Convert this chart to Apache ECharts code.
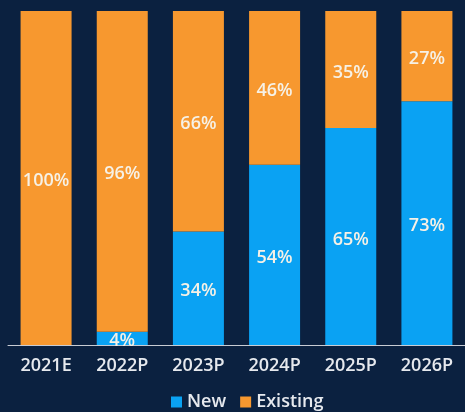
<!DOCTYPE html>
<html><head><meta charset="utf-8">
<script src="https://cdn.jsdelivr.net/npm/echarts@6/dist/echarts.min.js"></script>
<style>html,body{margin:0;padding:0;background:#0b2140;}#c{width:465px;height:412px;}</style>
</head><body><div id="c"></div>
<script>
const categories = ['2021E','2022P','2023P','2024P','2025P','2026P'];
const newShare = [0, 4, 34, 54, 65, 73];
const existingShare = [100, 96, 66, 46, 35, 27];
const seriesNames = ['New', 'Existing'];

const chart = echarts.init(document.getElementById('c'));
const labelStyle = {
  show: true, position: 'inside', offset: [0, 3], color: '#f6f1e6', fontSize: 18, fontWeight: 600,
  fontFamily: 'Open Sans', formatter: p => p.value > 0 ? p.value + '%' : ''
};
chart.setOption({
  backgroundColor: '#0b2140',
  animation: false,
  grid: { left: 8, top: 11, width: 464, bottom: 67, containLabel: false },
  legend: {
    bottom: -4, left: 166, itemWidth: 11, itemHeight: 11, itemGap: 14,
    icon: 'rect',
    textStyle: { color: '#e6e9ee', fontSize: 18, fontWeight: 600, fontFamily: 'Open Sans' },
    data: seriesNames
  },
  xAxis: {
    type: 'category', data: categories,
    axisLine: { show: true, lineStyle: { color: '#c8ccd4', width: 1 } },
    axisTick: { show: false },
    axisLabel: { color: '#e6e9ee', fontSize: 18, fontWeight: 600, fontFamily: 'Open Sans', margin: 12 }
  },
  yAxis: { type: 'value', min: 0, max: 100, show: false, splitLine: { show: false } },
  series: [
    { name: seriesNames[0], type: 'bar', stack: 'a', data: newShare, barWidth: 51,
      itemStyle: { color: '#0aa2f3' }, label: labelStyle },
    { name: seriesNames[1], type: 'bar', stack: 'a', data: existingShare, barWidth: 51,
      itemStyle: { color: '#f7982f' }, label: labelStyle }
  ]
});
</script></body></html>
